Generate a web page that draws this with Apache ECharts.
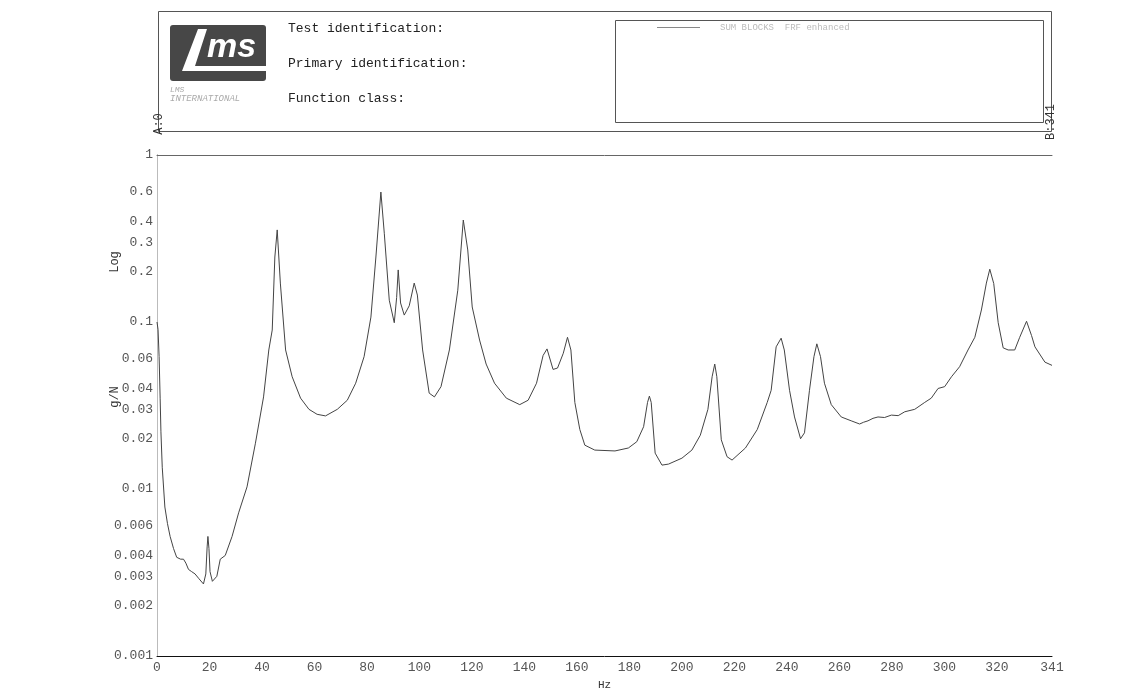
<!DOCTYPE html>
<html>
<head>
<meta charset="utf-8">
<title>SUM BLOCKS FRF enhanced</title>
<script src="https://cdn.jsdelivr.net/npm/echarts@6.0.0/dist/echarts.min.js"></script>
<style>
    html, body { margin: 0; padding: 0; background: #fff; }
    .frfChart { width: 1143px; height: 691px; }
</style>
</head>
<body>
<div class="frfChart"></div>
<script>
// 频率 (Hz) 和 FRF 幅值 (g/N)
var freqHz = [
    0, 0.4, 0.8, 1.2, 1.5, 2, 3, 4, 5, 6.3, 7.5, 9, 10.1, 11, 12, 13.2, 14.5, 16, 17.7, 18.6,
    19.1, 19.4, 19.8, 20.2, 21.1, 22.8, 24.1, 26, 28.6, 31.1, 34.3, 37.5, 40.6, 42.6, 43.9, 44.9,
    45.8, 47, 49, 51.5, 54.7, 57.9, 61, 64.2, 68.7, 72.5, 75.7, 78.9, 81.5, 83.4, 85.3, 86.6,
    88.5, 90.4, 91.3, 91.9, 92.8, 94.2, 96.1, 98, 99.2, 101.2, 103.7, 105.7, 108.2, 111.4, 114.6,
    116.7, 118.4, 120.1, 122.9, 125.4, 128.6, 133.1, 138.2, 141.4, 144.6, 147.1, 148.6, 150.9,
    152.6, 154.8, 156.4, 157.7, 159.2, 161.1, 163, 166.8, 174.5, 179.6, 182.8, 185.4, 186.9,
    187.6, 188.3, 189.8, 192.4, 194.9, 200, 203.8, 207, 209.9, 211.5, 212.5, 213.3, 215, 217.2,
    219.1, 224.2, 228.7, 232.5, 234, 235.9, 237.8, 239, 241, 242.9, 245.2, 246.7, 248.6, 250.3,
    251.4, 252.8, 254.3, 256.9, 260.7, 264.5, 267.7, 269.2, 270.9, 272.8, 274.7, 277.2, 279.8, 282.4, 284.9, 288.7, 292.5,
    295, 297.6, 300.1, 302.7, 305.8, 309, 311.6, 314.1, 316, 317.3, 318.8, 320.5, 322.4, 324.3,
    326.8, 328.7, 331.3, 333.2, 334.5, 338.3, 341
];
var frfMag = [
    0.1, 0.09, 0.062, 0.035, 0.022, 0.0135, 0.0078, 0.0062, 0.0052, 0.0044, 0.0039, 0.0038, 0.0038, 0.0036, 0.0033, 0.0032, 0.0031, 0.0029, 0.0027, 0.0031,
    0.0045, 0.0052, 0.0044, 0.0032, 0.0028, 0.003, 0.0038, 0.004, 0.0052, 0.0072, 0.0103, 0.0188, 0.0356, 0.068, 0.0895, 0.245,
    0.356, 0.171, 0.068, 0.047, 0.035, 0.03, 0.028, 0.0274, 0.03, 0.034, 0.043, 0.062, 0.107, 0.245, 0.6, 0.34,
    0.135, 0.099, 0.14, 0.205, 0.13, 0.11, 0.125, 0.171, 0.145, 0.068, 0.0375, 0.0356, 0.041, 0.068, 0.155,
    0.408, 0.27, 0.123, 0.078, 0.056, 0.043, 0.035, 0.032, 0.034, 0.043, 0.063, 0.069, 0.052,
    0.053, 0.065, 0.081, 0.068, 0.033, 0.0227, 0.0183, 0.0171, 0.0169, 0.0176, 0.0192, 0.0236, 0.033,
    0.036, 0.033, 0.0164, 0.0139, 0.0141, 0.0153, 0.0171, 0.021, 0.03, 0.047, 0.056, 0.047, 0.0197, 0.0156,
    0.0149, 0.0176, 0.0227, 0.033, 0.039, 0.071, 0.08, 0.068, 0.039, 0.027, 0.02, 0.0217, 0.039, 0.062,
    0.074, 0.062, 0.043, 0.032, 0.027, 0.0256, 0.0245, 0.0251, 0.0256, 0.0265, 0.027, 0.0268, 0.0277, 0.0275, 0.029, 0.03, 0.033,
    0.035, 0.04, 0.041, 0.047, 0.054, 0.068, 0.081, 0.118, 0.171, 0.207, 0.17, 0.099, 0.07, 0.068,
    0.068, 0.081, 0.101, 0.083, 0.071, 0.0575, 0.055
];
// 刻度标签
var xTickValues = [0, 20, 40, 60, 80, 100, 120, 140, 160, 180, 200, 220, 240, 260, 280, 300, 320, 341];
var yTickValues = [1, 0.6, 0.4, 0.3, 0.2, 0.1, 0.06, 0.04, 0.03, 0.02, 0.01, 0.006, 0.004, 0.003, 0.002, 0.001];
var headerLabels = ['Test identification:', 'Primary identification:', 'Function class:'];
var legendText = 'SUM BLOCKS  FRF enhanced';

var MONO = "'Liberation Mono', 'DejaVu Sans Mono', monospace";

/***********************FRF 曲线*******************************/
function FrfChart(params) {
    this.canvasId = params.canvasId;
    this.chart = {};
    this.chartsObj = {};
    this.option = {};
    this.seriesData = [];
}

FrfChart.prototype.initChart = function () {
    var thisProxy = this;
    thisProxy.chart = document.getElementsByClassName(thisProxy.canvasId)[0];
    thisProxy.chartsObj = echarts.init(thisProxy.chart, null, { renderer: 'canvas' });
    thisProxy.seriesData = [];
    for (var i = 0; i < freqHz.length; i++) {
        thisProxy.seriesData.push([freqHz[i], frfMag[i]]);
    }
};

FrfChart.prototype.getHeader = function () {
    var items = [
        // 外框
        { type: 'rect', shape: { x: 158.5, y: 11.5, width: 893, height: 120 },
          style: { fill: 'none', stroke: '#555', lineWidth: 1 } },
        // 图例框
        { type: 'rect', shape: { x: 615.5, y: 20.5, width: 428, height: 102 },
          style: { fill: 'none', stroke: '#555', lineWidth: 1 } },
        { type: 'line', shape: { x1: 657, y1: 27.5, x2: 700, y2: 27.5 },
          style: { stroke: '#888', lineWidth: 1 } },
        { type: 'text', x: 720, y: 28,
          style: { text: legendText, font: '9px ' + MONO, fill: '#bbb', verticalAlign: 'middle' } },
        // LMS 标志
        { type: 'rect', shape: { x: 170, y: 25, width: 96, height: 56, r: 3 },
          style: { fill: '#474747' } },
        { type: 'polygon', shape: { points: [[198, 29], [207, 29], [195, 66], [266, 66], [266, 71], [182, 71]] },
          style: { fill: '#fff' } },
        { type: 'text', x: 207, y: 48,
          style: { text: 'ms', font: 'italic bold 34px "Liberation Sans", Arial, sans-serif', fill: '#fff', verticalAlign: 'middle' } },
        { type: 'text', x: 170, y: 90,
          style: { text: 'LMS', font: 'italic 8px ' + MONO, fill: '#aaa', verticalAlign: 'middle' } },
        { type: 'text', x: 170, y: 99,
          style: { text: 'INTERNATIONAL', font: 'italic 9px ' + MONO, fill: '#aaa', verticalAlign: 'middle' } },
        // 光标标记
        { type: 'text', x: 159, y: 124, rotation: Math.PI / 2,
          style: { text: 'A:0', font: '12px ' + MONO, fill: '#333', align: 'center', verticalAlign: 'middle' } },
        { type: 'text', x: 1051, y: 122, rotation: Math.PI / 2,
          style: { text: 'B:341', font: '12px ' + MONO, fill: '#333', align: 'center', verticalAlign: 'middle' } },
        // y 轴名称
        { type: 'text', x: 115, y: 262, rotation: Math.PI / 2,
          style: { text: 'Log', font: '12px ' + MONO, fill: '#333', align: 'center', verticalAlign: 'middle' } },
        { type: 'text', x: 115, y: 397, rotation: Math.PI / 2,
          style: { text: 'g/N', font: '12px ' + MONO, fill: '#333', align: 'center', verticalAlign: 'middle' } }
    ];
    var rowY = [29, 64, 99];
    for (var i = 0; i < headerLabels.length; i++) {
        items.push({ type: 'text', x: 288, y: rowY[i],
            style: { text: headerLabels[i], font: '13px ' + MONO, fill: '#222', verticalAlign: 'middle' } });
    }
    return items;
};

FrfChart.prototype.getOption = function () {
    var thisProxy = this;
    thisProxy.option = {
        animation: false,
        backgroundColor: '#fff',
        graphic: thisProxy.getHeader(),
        grid: {
            left: 157,
            right: 91,
            top: 155,
            bottom: 35,
            containLabel: false,
            outerBoundsMode: 'none'
        },
        xAxis: [
            {
                type: 'value',
                min: 0,
                max: 341,
                name: 'Hz',
                nameLocation: 'middle',
                nameGap: 24,
                nameTextStyle: { fontFamily: MONO, fontSize: 11, color: '#333' },
                axisLine: { show: true, lineStyle: { color: '#111', width: 1 } },
                axisTick: { show: false },
                splitLine: { show: false },
                axisLabel: {
                    customValues: xTickValues,
                    fontFamily: MONO,
                    fontSize: 13,
                    color: '#555',
                    margin: 5
                }
            },
            {
                // 顶部边框
                type: 'value',
                position: 'top',
                min: 0,
                max: 341,
                axisLine: { show: true, lineStyle: { color: '#666', width: 1 } },
                axisTick: { show: false },
                axisLabel: { show: false },
                splitLine: { show: false }
            }
        ],
        yAxis: [
            {
                type: 'log',
                logBase: 10,
                min: 0.001,
                max: 1,
                axisLine: { show: true, lineStyle: { color: '#888', width: 1 } },
                axisTick: { show: false },
                splitLine: { show: false },
                axisLabel: {
                    customValues: yTickValues,
                    formatter: function (value) {
                        return String(+(+value).toPrecision(3));
                    },
                    fontFamily: MONO,
                    fontSize: 13,
                    color: '#555',
                    margin: 4
                }
            },
            {
                // 右侧边框
                type: 'log',
                position: 'right',
                min: 0.001,
                max: 1,
                axisLine: { show: true, lineStyle: { color: '#bbb', width: 1 } },
                axisTick: { show: false },
                axisLabel: { show: false },
                splitLine: { show: false }
            }
        ],
        series: [
            {
                name: legendText,
                type: 'line',
                xAxisIndex: 0,
                yAxisIndex: 0,
                showSymbol: false,
                symbol: 'none',
                lineStyle: { color: '#444', width: 1 },
                data: thisProxy.seriesData
            }
        ]
    };
};

FrfChart.prototype.fireData = function () {
    var thisProxy = this;
    thisProxy.chartsObj.setOption(thisProxy.option);
};

var frf = new FrfChart({ canvasId: 'frfChart' });
frf.initChart();
frf.getOption();
frf.fireData();
</script>
</body>
</html>
